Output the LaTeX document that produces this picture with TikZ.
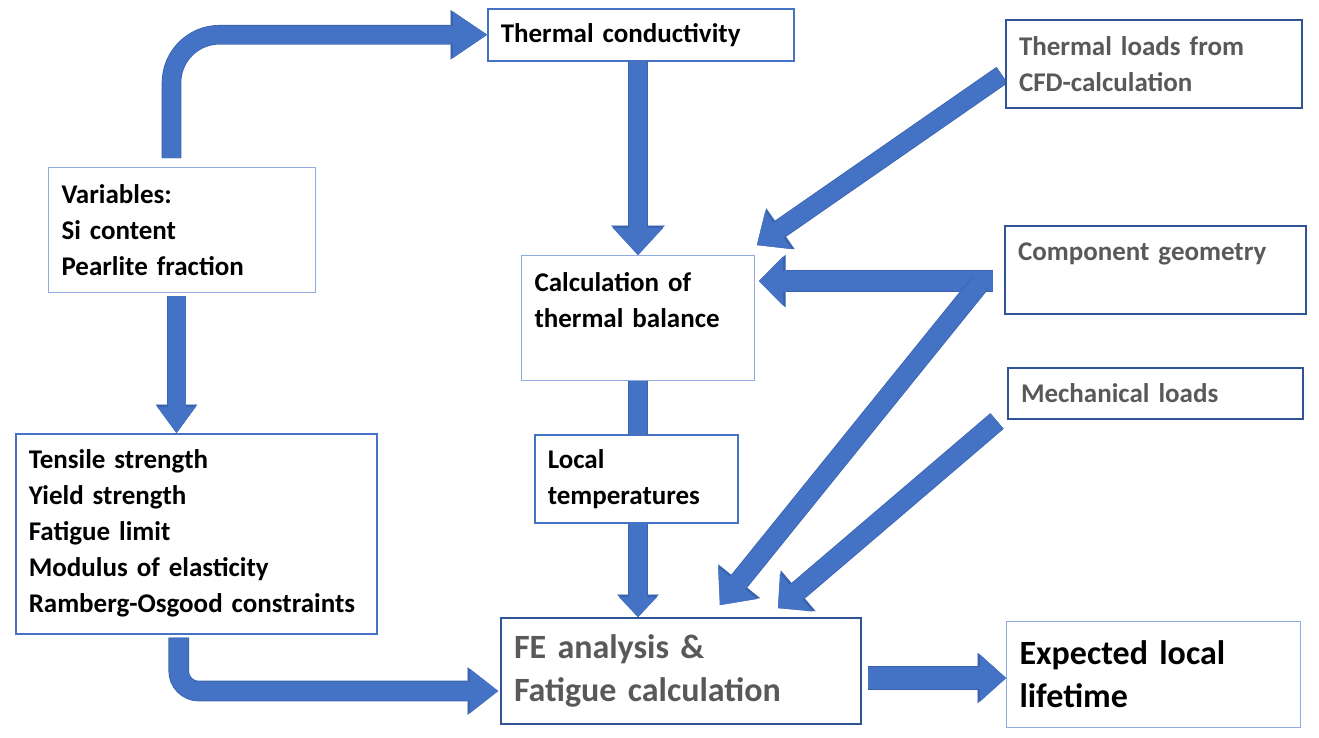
\documentclass[tikz,border=0pt]{standalone}
\usepackage{fontspec}
\setmainfont{Carlito}
\usetikzlibrary{arrows.meta,calc}
\definecolor{arrowblue}{HTML}{4472C4}
\definecolor{arrowedge}{HTML}{3A63AE}
\definecolor{midblue}{HTML}{4472C4}
\definecolor{lightblue}{HTML}{8FAADC}
\definecolor{darkblue}{HTML}{2F5597}
\definecolor{txtgray}{HTML}{595959}
\pgfdeclarelayer{bg}
\pgfsetlayers{bg,main}
\begin{document}
\begin{tikzpicture}[x=1pt,y=-1pt,
  box/.style={draw, fill=white, anchor=north west, inner xsep=13pt, inner ysep=0pt,
    align=left, font=\bfseries\fontsize{27}{36}\selectfont},
  bigbox/.style={box, font=\bfseries\fontsize{34}{43}\selectfont},
  lightb/.style={draw=lightblue, line width=1pt},
  midb/.style={draw=midblue, line width=1.5pt},
  darkb/.style={draw=darkblue, line width=2pt},
  gtxt/.style={text=txtgray},
  arr/.style={draw=arrowblue, line join=miter},
  % shaft width, head length, head width, outline head length, outline head width
  blk/.style n args={5}{arr, line width=#1,
    -{Triangle[length=#2,width=#3,line width=0.01pt]},
    preaction={draw=arrowedge, line width=#1+1.6pt,
      -{Triangle[length=#4,width=#5,line width=0.01pt]}}},
  shaft/.style={arr, line width=#1, preaction={draw=arrowedge, line width=#1+1.6pt}}]
\useasboundingbox (0,0) rectangle (1319,737);

% boxes
\node[box, midb, minimum width=306pt, text width=280pt, minimum height=52pt] (tc) at (487,8) {Thermal conductivity};
\node[box, darkb, gtxt, minimum width=296pt, text width=270pt, minimum height=88pt] (cfd) at (1005,19) {Thermal loads from\\CFD-calculation};
\node[box, lightb, minimum width=267pt, text width=241pt, minimum height=125pt] (var) at (48,167) {Variables:\\Si content\\Pearlite fraction};
\node[box, lightb, minimum width=233pt, text width=207pt, minimum height=125pt] (calc) at (521,255) {Calculation of\\thermal balance\\\mbox{}};
\node[box, darkb, gtxt, minimum width=301pt, text width=275pt, minimum height=88pt] (comp) at (1004,225) {Component geometry\\\mbox{}};
\node[box, darkb, gtxt, minimum width=295pt, text width=269pt, minimum height=51pt] (mech) at (1007,367) {Mechanical loads};
\node[box, midb, minimum width=361pt, text width=335pt, minimum height=200pt] (tens) at (15,433) {Tensile strength\\Yield strength\\Fatigue limit\\Modulus of elasticity\\Ramberg-Osgood constraints};
\node[box, midb, minimum width=203pt, text width=177pt, minimum height=88pt] (loc) at (534,434) {Local\\temperatures};
\node[bigbox, darkb, gtxt, minimum width=360pt, text width=334pt, minimum height=106pt] (fe) at (500,617) {FE analysis \&\\Fatigue calculation};
\node[bigbox, lightb, minimum width=294pt, text width=268pt, minimum height=106pt] (exp) at (1006,621) {Expected local\\lifetime};

% connector end points
\coordinate (v0) at ($(var.north)+(-10.5,-9)$);
\coordinate (v1) at ($(var.south)+(-5.5,3)$);
\coordinate (t1) at ($(tens.south)+(-17.5,3)$);
\coordinate (f1) at ($(fe.west)+(-2,20)$);
\coordinate (c0) at ($(cfd.west)+(-3,11)$);
\coordinate (c1) at ($(calc.north east)+(2,-10)$);
\coordinate (g0) at ($(comp.west)+(-11,11)$);
\coordinate (g1) at ($(comp.west)+(-24,13)$);
\coordinate (f2) at ($(fe.north)+(39,-12)$);
\coordinate (m0) at ($(mech.south west)+(-10,1)$);
\coordinate (f3) at ($(fe.north east)+(-84,-9)$);
\coordinate (e1) at ($(fe.east)+(6,7)$);

\begin{pgfonlayer}{bg}
\draw[blk={18pt}{34pt}{46pt}{36.5pt}{49.5pt}, rounded corners=48pt] (v0) |- (tc.west);
\draw[blk={18pt}{26pt}{38pt}{28.5pt}{41.5pt}] (v1) -- (v1 |- tens.north);
\draw[blk={19pt}{28pt}{44pt}{30.5pt}{47.5pt}, rounded corners=20pt] (t1) |- (f1);
\draw[blk={18pt}{27pt}{50pt}{29.5pt}{53.5pt}] (tc.south -| calc.north) -- (calc.north);
\draw[shaft=18pt] (calc.south) -- (calc.south |- loc.north);
\draw[blk={18pt}{20pt}{38pt}{22.5pt}{41.5pt}] (calc.south |- loc.south) -- (calc.south |- fe.north);
\draw[blk={18pt}{26pt}{46pt}{28.5pt}{49.5pt}] (c0) -- (c1);
\draw[blk={20pt}{24pt}{49pt}{26.5pt}{52.5pt}, shorten >=4pt] (g0) -- (g0 -| calc.east);
\draw[blk={19pt}{28pt}{50pt}{30.5pt}{53.5pt}] (g1) -- (f2);
\draw[blk={19pt}{24pt}{50pt}{26.5pt}{53.5pt}] (m0) -- (f3);
\draw[blk={22pt}{26pt}{47pt}{28.5pt}{50.5pt}] (e1) -- (e1 -| exp.west);
\end{pgfonlayer}
\end{tikzpicture}
\end{document}
